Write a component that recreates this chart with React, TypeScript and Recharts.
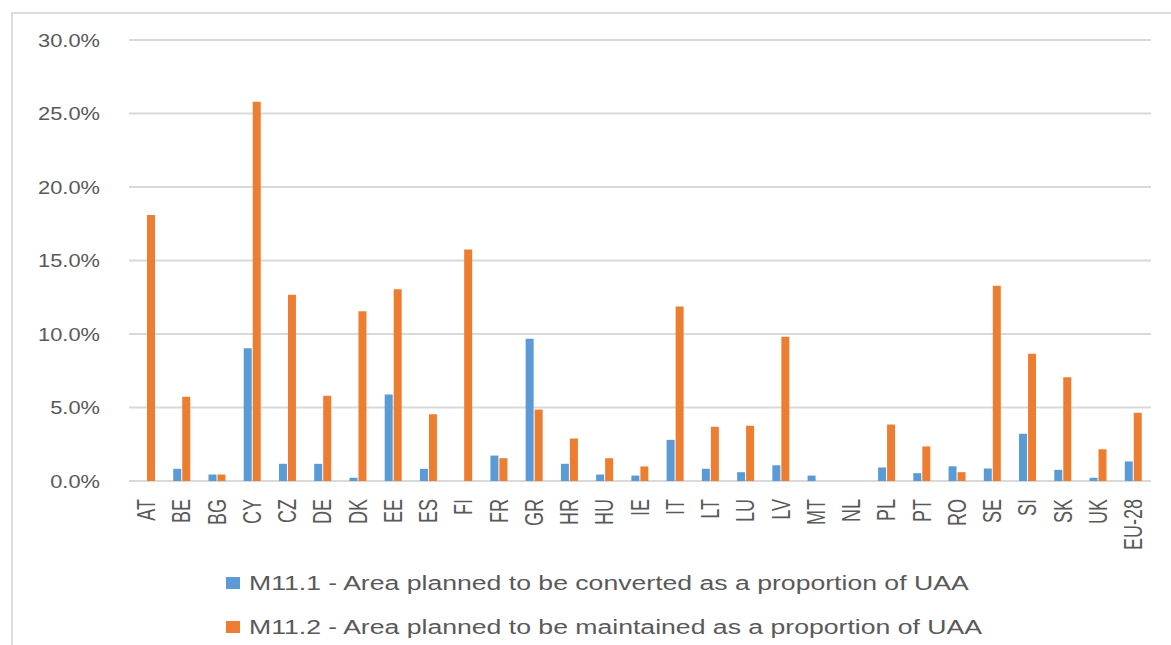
import { BarChart, Bar, XAxis, YAxis, CartesianGrid } from "recharts";

const countries = [
  "AT", "BE", "BG", "CY", "CZ", "DE", "DK", "EE", "ES", "FI",
  "FR", "GR", "HR", "HU", "IE", "IT", "LT", "LU", "LV", "MT",
  "NL", "PL", "PT", "RO", "SE", "SI", "SK", "UK", "EU-28",
];

// M11.1 - area planned to be converted, % of UAA
const converted = [
  0, 0.83, 0.44, 9.03, 1.17, 1.17, 0.22, 5.88, 0.83, 0,
  1.73, 9.67, 1.17, 0.44, 0.37, 2.8, 0.83, 0.6, 1.07, 0.37,
  0, 0.92, 0.53, 1.0, 0.85, 3.21, 0.76, 0.22, 1.33,
];

// M11.2 - area planned to be maintained, % of UAA
const maintained = [
  18.1, 5.73, 0.44, 25.8, 12.67, 5.8, 11.55, 13.05, 4.54, 15.75,
  1.55, 4.86, 2.89, 1.55, 0.99, 11.87, 3.69, 3.76, 9.81, 0,
  0, 3.84, 2.35, 0.6, 13.28, 8.65, 7.06, 2.16, 4.64,
];

const yTicks = [0, 5, 10, 15, 20, 25, 30];

const seriesNames = [
  "M11.1 - Area planned to be converted as a proportion of UAA",
  "M11.2 - Area planned to be maintained as a proportion of UAA",
];
const seriesColors = ["#5B9BD5", "#ED7D31"];

const data = countries.map((c, i) => ({
  country: c,
  converted: converted[i],
  maintained: maintained[i],
}));

const FONT = "'Liberation Sans', Arial, sans-serif";
const TEXT = "#595959";

// vertical country codes, glyphs widened like the Excel export
const CountryTick = ({ x, y, payload }: any) => (
  <text
    transform={`translate(${x},${y + 12}) rotate(-90) scale(1,1.4)`}
    textAnchor="end"
    dominantBaseline="central"
    fill={TEXT}
    fontSize={18}
    fontFamily={FONT}
  >
    {payload.value}
  </text>
);

// percentage labels, stretched a little horizontally
const PercentTick = ({ x, y, payload }: any) => (
  <text
    transform={`translate(${x},${y}) scale(1.15,1)`}
    textAnchor="end"
    dominantBaseline="central"
    fill={TEXT}
    fontSize={19}
    fontFamily={FONT}
  >
    {`${payload.value.toFixed(1)}%`}
  </text>
);

const App = () => {
  return (
    <div style={{ position: "relative", width: 1171, height: 645, overflow: "hidden", background: "#fff" }}>
      <style>{"body{margin:0}"}</style>
      <div
        style={{
          position: "absolute",
          left: 11,
          top: 12,
          width: 1200,
          height: 700,
          border: "2px solid #dcdcdc",
        }}
      />
      <div style={{ position: "absolute", left: 0, top: 0 }}>
        <BarChart
          width={1171}
          height={560}
          data={data}
          margin={{ top: 40, right: 20, left: 0, bottom: 9 }}
          barSize={8}
          barGap={1}
        >
          <CartesianGrid vertical={false} stroke="#d9d9d9" strokeWidth={2} />
          <XAxis
            dataKey="country"
            interval={0}
            height={70}
            axisLine={false}
            tickLine={false}
            tickMargin={0}
            tick={<CountryTick />}
          />
          <YAxis
            width={129}
            domain={[0, 30]}
            ticks={yTicks}
            axisLine={false}
            tickLine={false}
            tickMargin={23}
            tick={<PercentTick />}
          />
          <Bar dataKey="converted" name={seriesNames[0]} fill={seriesColors[0]} isAnimationActive={false} />
          <Bar dataKey="maintained" name={seriesNames[1]} fill={seriesColors[1]} isAnimationActive={false} />
        </BarChart>
      </div>
      <div style={{ position: "absolute", left: 226, top: 561, fontFamily: FONT, color: TEXT }}>
        {seriesNames.map((name, i) => (
          <div key={name} style={{ display: "flex", alignItems: "center", height: 44 }}>
            <span style={{ width: 14, height: 12, background: seriesColors[i], marginRight: 9 }} />
            <span
              style={{
                display: "inline-block",
                fontSize: 20,
                whiteSpace: "nowrap",
                transform: "scaleX(1.33)",
                transformOrigin: "left center",
              }}
            >
              {name}
            </span>
          </div>
        ))}
      </div>
    </div>
  );
};

export default App;
